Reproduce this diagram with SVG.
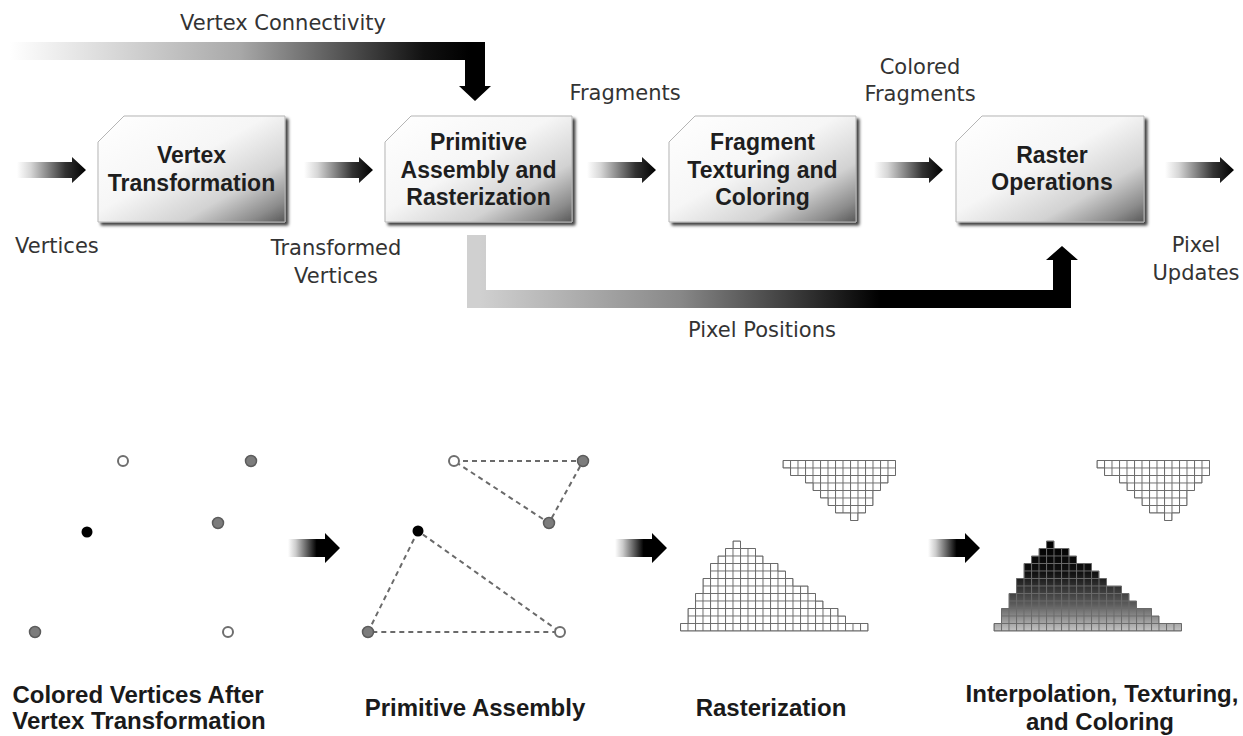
<svg xmlns="http://www.w3.org/2000/svg" width="1243" height="736" viewBox="0 0 1243 736">
<style>
.box{fill:url(#boxFill);stroke:#b5b5b5;stroke-width:1;filter:url(#shadow)}
.nt{font-family:"Liberation Sans",Arial,sans-serif;font-weight:bold;font-size:23px;fill:#1e1e1e;text-anchor:middle}
.lbl{font-family:"DejaVu Sans","Liberation Sans",sans-serif;font-size:21px;fill:#333;text-anchor:middle}
.cap{font-family:"Liberation Sans",Arial,sans-serif;font-weight:bold;font-size:24px;fill:#1a1a1a;text-anchor:middle}
.arr{fill:url(#arrowFill)}
.barr{fill:url(#arrowFill2)}
.hollow{fill:#fff;stroke:#6e6e6e;stroke-width:2}
.gray{fill:#7c7c7c;stroke:#5c5c5c;stroke-width:1.5}
.black{fill:#000}
.dash{stroke:#6a6a6a;stroke-width:2;stroke-dasharray:5 4;fill:none}
.grid{fill:#fff}
.gridlines{fill:url(#cells);stroke:#6a6a6a;stroke-width:1}
</style>
<defs>
<linearGradient id="boxFill" x1="0" y1="0" x2="1" y2="1">
<stop offset="0" stop-color="#ffffff"/>
<stop offset="0.45" stop-color="#f6f6f6"/>
<stop offset="0.72" stop-color="#d2d2d2"/>
<stop offset="0.9" stop-color="#8c8c8c"/>
<stop offset="1" stop-color="#585858"/>
</linearGradient>
<linearGradient id="arrowFill" x1="0" y1="0" x2="1" y2="0">
<stop offset="0" stop-color="#ffffff"/>
<stop offset="0.2" stop-color="#d6d6d6"/>
<stop offset="0.7" stop-color="#333333"/>
<stop offset="1" stop-color="#000000"/>
</linearGradient>
<linearGradient id="arrowFill2" x1="0" y1="0" x2="1" y2="0">
<stop offset="0" stop-color="#ffffff"/>
<stop offset="0.15" stop-color="#cccccc"/>
<stop offset="0.55" stop-color="#000000"/>
<stop offset="1" stop-color="#000000"/>
</linearGradient>
<linearGradient id="topFlow" gradientUnits="userSpaceOnUse" x1="10" y1="0" x2="470" y2="0">
<stop offset="0" stop-color="#ffffff"/>
<stop offset="0.5" stop-color="#a8a8a8"/>
<stop offset="0.9" stop-color="#111111"/>
<stop offset="1" stop-color="#000000"/>
</linearGradient>
<linearGradient id="bottomFlow" gradientUnits="userSpaceOnUse" x1="480" y1="0" x2="880" y2="0">
<stop offset="0" stop-color="#d0d0d0"/>
<stop offset="0.5" stop-color="#888888"/>
<stop offset="1" stop-color="#000000"/>
</linearGradient>
<linearGradient id="fillGrad" gradientUnits="userSpaceOnUse" x1="0" y1="0" x2="0" y2="90">
<stop offset="0" stop-color="#000000"/>
<stop offset="0.35" stop-color="#101010"/>
<stop offset="0.7" stop-color="#5a5a5a"/>
<stop offset="1" stop-color="#c4c4c4"/>
</linearGradient>
<filter id="shadow" x="-5%" y="-5%" width="115%" height="120%">
<feDropShadow dx="3" dy="3" stdDeviation="1.5" flood-color="#000" flood-opacity="0.75"/>
</filter>
<pattern id="cells" patternUnits="userSpaceOnUse" x="-0.5" y="-0.5" width="7.5" height="7.5">
<path d="M0 0.5H7.5M0.5 0V7.5" stroke="#6a6a6a" stroke-width="1" fill="none"/>
</pattern>
<path id="bigTri" d="M52.5 0H60V7.5H75V15H82.5V22.5H97.5V30H105V37.5H112.5V45H127.5V52.5H135V60H142.5V67.5H157.5V75H165V82.5H187.5V90H0V82.5H7.5V67.5H15V52.5H22.5V37.5H30V22.5H37.5V15H45V7.5H52.5Z"/>
<path id="smallTri" d="M0 0H112.5V15H105V22.5H97.5V30H90V45H82.5V52.5H75V60H67.5V52.5H52.5V45H45V37.5H37.5V30H30V22.5H22.5V15H7.5V7.5H0Z"/>
<path id="flowArrow" d="M0 -8H55V-13L69 0L55 13V8H0Z"/>
<path id="bigArrow" d="M0 -9H37V-15L52 0L37 15V9H0Z"/>
</defs>

<rect width="1243" height="736" fill="#fff"/>

<g id="connectors">
<path id="vertex-connectivity" d="M10 42H485V86H491L475 101L459 86H465V60H10Z" fill="url(#topFlow)"/>
<path id="pixel-positions" d="M467 235H486V290H1053V260H1046L1062 246L1078 260H1071V308H467Z" fill="url(#bottomFlow)"/>
<use href="#flowArrow" class="arr" transform="translate(17,170)"/>
<use href="#flowArrow" class="arr" transform="translate(304,170)"/>
<use href="#flowArrow" class="arr" transform="translate(587,170)"/>
<use href="#flowArrow" class="arr" transform="translate(874,170)"/>
<use href="#flowArrow" class="arr" transform="translate(1165,170)"/>
<use href="#bigArrow" class="barr" transform="translate(288,548)"/>
<use href="#bigArrow" class="barr" transform="translate(615,548)"/>
<use href="#bigArrow" class="barr" transform="translate(928,548)"/>
</g>

<g id="node-vertex-transformation" transform="translate(98,116)">
<path class="box" d="M26 0H187V106H0V26Z"/>
<text class="nt" x="93.5" y="47">Vertex</text>
<text class="nt" x="93.5" y="75">Transformation</text>
</g>
<g id="node-primitive-assembly" transform="translate(385,116)">
<path class="box" d="M26 0H187V106H0V26Z"/>
<text class="nt" x="93.5" y="34">Primitive</text>
<text class="nt" x="93.5" y="62">Assembly and</text>
<text class="nt" x="93.5" y="89">Rasterization</text>
</g>
<g id="node-fragment-texturing" transform="translate(669,116)">
<path class="box" d="M26 0H187V106H0V26Z"/>
<text class="nt" x="93.5" y="34">Fragment</text>
<text class="nt" x="93.5" y="62">Texturing and</text>
<text class="nt" x="93.5" y="89">Coloring</text>
</g>
<g id="node-raster-operations" transform="translate(956,116)">
<path class="box" d="M26 0H188V106H0V26Z"/>
<text class="nt" x="96" y="47">Raster</text>
<text class="nt" x="96" y="74">Operations</text>
</g>

<g id="labels">
<text class="lbl" x="283" y="30">Vertex Connectivity</text>
<text class="lbl" x="15" y="253" style="text-anchor:start">Vertices</text>
<text class="lbl" x="336" y="255">Transformed</text>
<text class="lbl" x="336" y="283">Vertices</text>
<text class="lbl" x="625" y="100">Fragments</text>
<text class="lbl" x="920" y="74">Colored</text>
<text class="lbl" x="920" y="101">Fragments</text>
<text class="lbl" x="1196" y="252">Pixel</text>
<text class="lbl" x="1196" y="280">Updates</text>
<text class="lbl" x="762" y="337">Pixel Positions</text>
</g>

<g id="colored-vertices">
<circle class="hollow" cx="123" cy="461" r="5"/>
<circle class="gray" cx="251" cy="461" r="5.5"/>
<circle class="black" cx="87" cy="532" r="5.5"/>
<circle class="gray" cx="218" cy="523" r="5.5"/>
<circle class="gray" cx="35" cy="632" r="5.5"/>
<circle class="hollow" cx="228" cy="632" r="5"/>
<text class="cap" x="138" y="703">Colored Vertices After</text>
<text class="cap" x="139" y="729">Vertex Transformation</text>
</g>

<g id="primitive-assembly">
<path class="dash" d="M454 461H583L549 523Z"/>
<path class="dash" d="M418 531L368 632H560Z"/>
<circle class="hollow" cx="454" cy="461" r="5"/>
<circle class="gray" cx="583" cy="461" r="5.5"/>
<circle class="gray" cx="549" cy="523" r="5.5"/>
<circle class="black" cx="418" cy="531" r="5.5"/>
<circle class="gray" cx="368" cy="632" r="5.5"/>
<circle class="hollow" cx="560" cy="632" r="5"/>
<text class="cap" x="475" y="716">Primitive Assembly</text>
</g>

<g id="rasterization">
<g transform="translate(783,460.5)">
<use href="#smallTri" class="grid"/>
<use href="#smallTri" class="gridlines"/>
</g>
<g transform="translate(680.5,541)">
<use href="#bigTri" class="grid"/>
<use href="#bigTri" class="gridlines"/>
</g>
<text class="cap" x="771" y="716">Rasterization</text>
</g>

<g id="interpolation">
<g transform="translate(1097,460.5)">
<use href="#smallTri" class="grid"/>
<use href="#smallTri" class="gridlines"/>
</g>
<g transform="translate(994,541)">
<use href="#bigTri" fill="url(#fillGrad)"/>
<use href="#bigTri" class="gridlines"/>
</g>
<text class="cap" x="1102" y="702">Interpolation, Texturing,</text>
<text class="cap" x="1100" y="730">and Coloring</text>
</g>
</svg>
